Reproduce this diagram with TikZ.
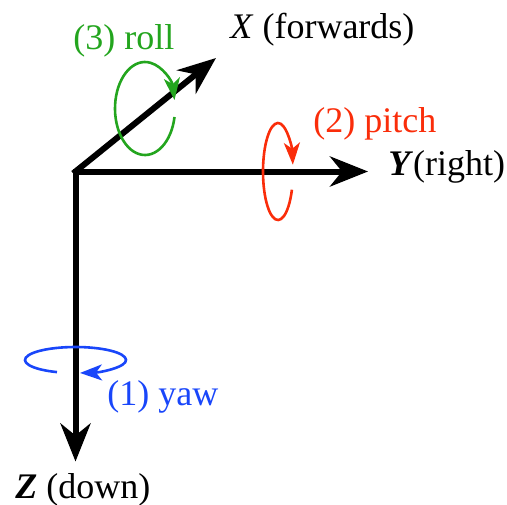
\documentclass[tikz,border=0pt]{standalone}
\usepackage{fontspec}
\setmainfont{Liberation Serif}
\newfontfamily\labelfont{Liberation Serif}
\usepackage{xcolor}
\usetikzlibrary{arrows.meta}
\definecolor{rollgreen}{RGB}{35,165,30}
\definecolor{pitchred}{RGB}{250,45,10}
\definecolor{yawblue}{RGB}{25,70,250}

\begin{document}
\begin{tikzpicture}[
  x=0.5pt, y=0.5pt,
  axis/.style = {line width=3pt, line cap=rect,
                 -{Stealth[length=19pt, width=15pt, inset=6pt]}},
  turn/.style = {line width=1.3pt, -{Stealth[length=11pt, width=8pt, inset=3pt]}},
  lbl/.style  = {inner sep=0pt, anchor=base west,
                 font=\labelfont\fontsize{18}{21}\selectfont}
]
\useasboundingbox (0,0) rectangle (507,-504);
\coordinate (O) at (75.5,-171.5);
\coordinate (xtip) at (216,-58);
\coordinate (ytip) at (368,-171.5);
\coordinate (ztip) at (75.5,-461.5);
\coordinate (rollc) at (145,-108.5);
\coordinate (pitchc) at (278,-171.5);
\coordinate (yawc) at (75.5,-360);
% body axes
\draw[axis] (O) -- (xtip);
\draw[axis] (O) -- (ytip);
\draw[axis] (O) -- (ztip);
% rotations
\draw[turn, rollgreen] (rollc) ++(-10.5:30 and 46.5)
  arc[start angle=-10.5, end angle=-349.5, x radius=30, y radius=46.5];
\draw[turn, pitchred] (pitchc) ++(-22:15 and 48.5)
  arc[start angle=-22, end angle=-352, x radius=15, y radius=48.5];
\draw[turn, yawblue] (yawc) ++(-111.5:50.5 and 13)
  arc[start angle=-111.5, end angle=-444.9, x radius=50.5, y radius=13];
% labels
\node[lbl] (xlbl) at (230,-38) {\textit{X} (forwards)};
\node[lbl] (ylbl) at (388,-175) {\textbf{\textit{Y}}(right)};
\node[lbl] (zlbl) at (15,-498) {\textbf{\textit{Z}} (down)};
\node[lbl, rollgreen] (rolllbl) at (73,-49) {(3) roll};
\node[lbl, pitchred] (pitchlbl) at (313,-132) {(2) pitch};
\node[lbl, yawblue] (yawlbl) at (107,-405) {(1) yaw};
\end{tikzpicture}
\end{document}
